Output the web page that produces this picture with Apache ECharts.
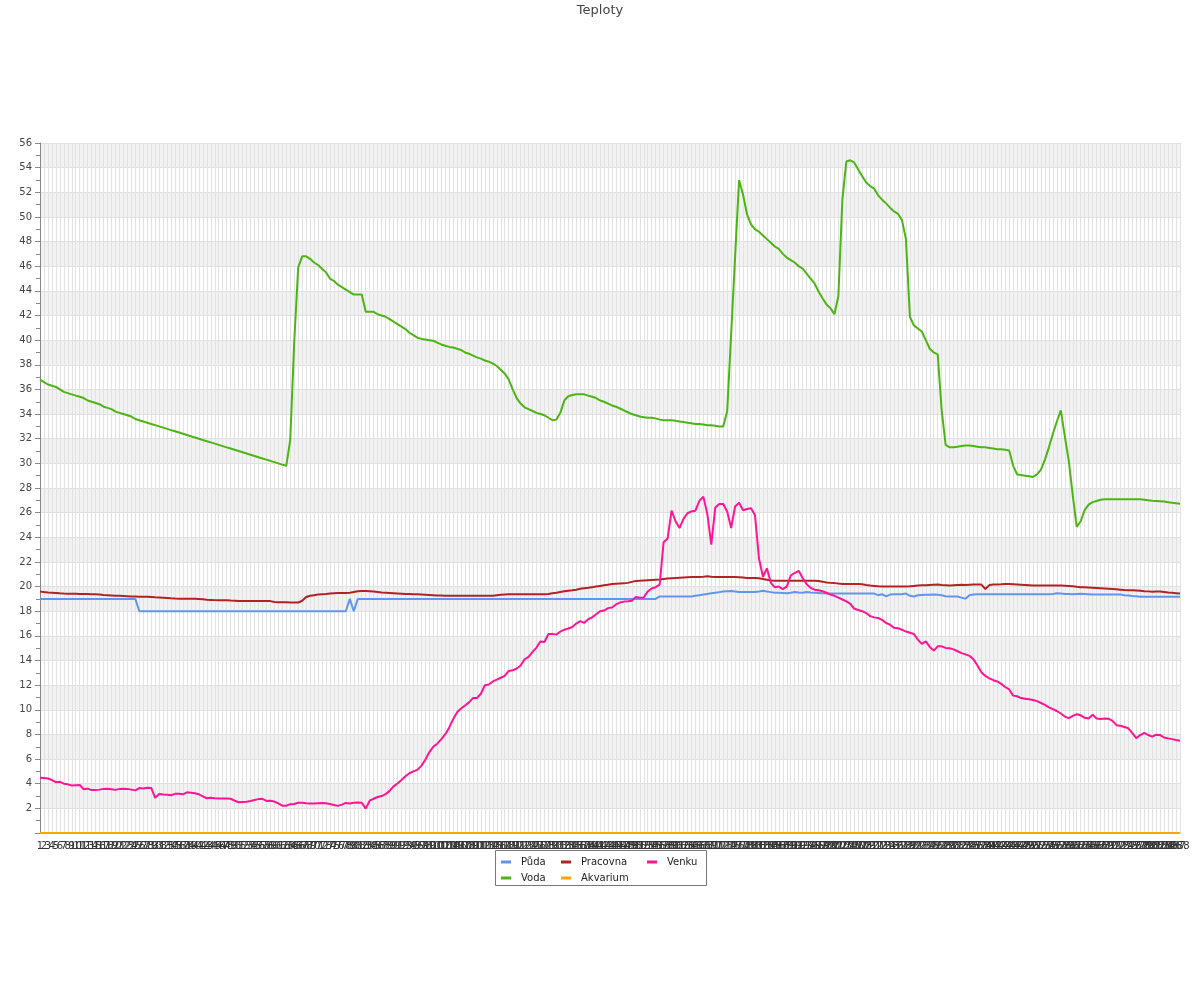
<!DOCTYPE html>
<html>
<head>
<meta charset="utf-8">
<script src="https://cdn.jsdelivr.net/npm/echarts@6/dist/echarts.min.js"></script>
<style>html,body{margin:0;padding:0;background:#fff}#c{width:1200px;height:1000px}</style>
</head>
<body>
<div id="c"></div>
<script>
// category labels 1..288
const categories = Array.from({length: 288}, (_, i) => String(i + 1));

const puda = [
19,19,19,19,19,19,19,19,19,19,
19,19,19,19,19,19,19,19,19,19,
19,19,19,19,19,18,18,18,18,18,
18,18,18,18,18,18,18,18,18,18,
18,18,18,18,18,18,18,18,18,18,
18,18,18,18,18,18,18,18,18,18,
18,18,18,18,18,18,18,18,18,18,
18,18,18,18,18,18,18,18,19,18,
19,19,19,19,19,19,19,19,19,19,
19,19,19,19,19,19,19,19,19,19,
19,19,19,19,19,19,19,19,19,19,
19,19,19,19,19,19,19,19,19,19,
19,19,19,19,19,19,19,19,19,19,
19,19,19,19,19,19,19,19,19,19,
19,19,19,19,19,19,19,19,19,19,
19,19,19,19,19,19,19.2,19.2,19.2,19.2,
19.2,19.2,19.2,19.2,19.2,19.25,19.3,19.35,19.4,19.45,
19.5,19.55,19.6,19.62,19.64,19.6,19.56,19.56,19.56,19.56,
19.56,19.6,19.66,19.6,19.55,19.5,19.5,19.48,19.45,19.5,
19.56,19.52,19.5,19.56,19.52,19.5,19.48,19.45,19.43,19.43,
19.43,19.43,19.43,19.43,19.43,19.43,19.43,19.43,19.43,19.43,
19.43,19.3,19.38,19.2,19.35,19.38,19.38,19.38,19.43,19.25,
19.2,19.3,19.32,19.34,19.34,19.35,19.34,19.3,19.22,19.2,
19.2,19.2,19.1,19.02,19.3,19.35,19.37,19.37,19.37,19.37,
19.37,19.37,19.37,19.37,19.37,19.37,19.37,19.37,19.37,19.37,
19.37,19.37,19.37,19.37,19.37,19.4,19.45,19.43,19.4,19.4,
19.38,19.4,19.42,19.4,19.38,19.35,19.35,19.35,19.35,19.35,
19.35,19.35,19.35,19.3,19.27,19.24,19.22,19.18,19.18,19.18,
19.18,19.18,19.18,19.18,19.18,19.18,19.18,19.18
];

const voda = [
36.8,36.6,36.4,36.3,36.2,36.0,35.8,35.7,35.6,35.5,
35.4,35.3,35.1,35.0,34.9,34.8,34.6,34.5,34.4,34.2,
34.1,34.0,33.9,33.8,33.6,33.5,33.4,33.3,33.2,33.1,
33.0,32.9,32.8,32.7,32.6,32.5,32.4,32.3,32.2,32.1,
32.0,31.9,31.8,31.7,31.6,31.5,31.4,31.3,31.2,31.1,
31.0,30.9,30.8,30.7,30.6,30.5,30.4,30.3,30.2,30.1,
30.0,29.9,29.8,31.9,39.8,45.9,46.8,46.8,46.6,46.3,
46.1,45.8,45.5,45.0,44.8,44.5,44.3,44.1,43.9,43.7,
43.7,43.7,42.3,42.3,42.3,42.1,42.0,41.9,41.7,41.5,
41.3,41.1,40.9,40.6,40.4,40.2,40.1,40.05,40.0,39.95,
39.8,39.65,39.55,39.45,39.4,39.3,39.2,39.0,38.9,38.75,
38.6,38.5,38.35,38.25,38.1,37.9,37.6,37.3,36.8,36.0,
35.3,34.85,34.55,34.4,34.25,34.1,34.0,33.9,33.7,33.5,
33.55,34.1,35.1,35.45,35.55,35.6,35.6,35.6,35.5,35.4,
35.3,35.1,35.0,34.85,34.7,34.6,34.45,34.3,34.15,34.0,
33.9,33.8,33.75,33.7,33.7,33.65,33.55,33.5,33.5,33.5,
33.45,33.4,33.35,33.3,33.25,33.2,33.2,33.15,33.1,33.1,
33.05,33.0,33.0,34.2,40.5,46.8,53.0,51.8,50.2,49.4,
49.0,48.8,48.5,48.2,47.9,47.6,47.4,47.0,46.7,46.5,
46.3,46.0,45.8,45.4,45.0,44.6,43.95,43.4,42.9,42.6,
42.1,43.6,51.4,54.5,54.6,54.4,53.85,53.3,52.8,52.5,
52.3,51.75,51.4,51.1,50.75,50.45,50.25,49.75,48.2,41.9,
41.2,40.95,40.7,40.0,39.3,39.0,38.85,34.3,31.5,31.3,
31.3,31.35,31.4,31.45,31.45,31.4,31.35,31.3,31.3,31.25,
31.2,31.15,31.15,31.1,31.05,29.8,29.1,29.05,29.0,28.95,
28.9,29.1,29.5,30.3,31.3,32.4,33.4,34.3,32.2,30.2,
27.4,24.85,25.3,26.2,26.65,26.85,26.95,27.05,27.08,27.08,
27.08,27.08,27.08,27.08,27.08,27.08,27.08,27.08,27.05,27.0,
26.97,26.95,26.93,26.9,26.85,26.8,26.77,26.73
];

const pracovna = [
19.59,19.55,19.52,19.5,19.48,19.45,19.43,19.42,19.42,19.41,
19.4,19.4,19.39,19.38,19.37,19.35,19.32,19.3,19.28,19.26,
19.25,19.24,19.22,19.2,19.19,19.18,19.18,19.17,19.15,19.13,
19.12,19.1,19.08,19.05,19.03,19.02,19.02,19.02,19.02,19.02,
19.0,18.97,18.94,18.92,18.9,18.88,18.9,18.88,18.86,18.85,
18.83,18.83,18.83,18.83,18.83,18.83,18.83,18.83,18.82,18.75,
18.73,18.72,18.72,18.71,18.7,18.7,18.85,19.15,19.25,19.3,
19.35,19.38,19.4,19.43,19.45,19.47,19.48,19.48,19.5,19.56,
19.62,19.64,19.64,19.63,19.6,19.56,19.52,19.5,19.48,19.46,
19.44,19.42,19.4,19.39,19.38,19.37,19.35,19.33,19.31,19.29,
19.27,19.27,19.26,19.26,19.26,19.26,19.26,19.26,19.26,19.26,
19.26,19.26,19.26,19.26,19.26,19.3,19.33,19.36,19.37,19.37,
19.37,19.37,19.37,19.37,19.37,19.37,19.37,19.37,19.4,19.45,
19.5,19.56,19.62,19.66,19.7,19.75,19.82,19.86,19.9,19.95,
20.0,20.05,20.1,20.15,20.2,20.22,20.24,20.26,20.3,20.38,
20.46,20.48,20.5,20.52,20.54,20.56,20.58,20.62,20.65,20.68,
20.7,20.72,20.74,20.76,20.77,20.78,20.78,20.8,20.83,20.8,
20.78,20.78,20.78,20.78,20.78,20.78,20.76,20.74,20.7,20.7,
20.7,20.68,20.62,20.55,20.5,20.48,20.48,20.48,20.48,20.48,
20.48,20.48,20.48,20.48,20.48,20.48,20.45,20.4,20.33,20.3,
20.28,20.24,20.21,20.21,20.21,20.21,20.21,20.18,20.12,20.08,
20.05,20.02,20.0,20.0,20.0,20.0,20.0,20.0,20.0,20.02,
20.05,20.08,20.1,20.1,20.12,20.14,20.16,20.12,20.1,20.08,
20.1,20.12,20.14,20.12,20.14,20.16,20.16,20.16,19.8,20.12,
20.16,20.17,20.18,20.2,20.2,20.18,20.16,20.14,20.12,20.1,
20.08,20.08,20.08,20.08,20.08,20.08,20.08,20.08,20.07,20.05,
20.02,19.98,19.95,19.94,19.92,19.9,19.88,19.86,19.84,19.82,
19.8,19.78,19.75,19.72,19.7,19.7,19.68,19.66,19.63,19.61,
19.58,19.6,19.6,19.56,19.52,19.49,19.46,19.43
];

const akvarium = [
0,0,0,0,0,0,0,0,0,0,0,0,0,0,0,0,0,0,0,0,0,0,0,0,0,0,0,0,0,0,
0,0,0,0,0,0,0,0,0,0,0,0,0,0,0,0,0,0,0,0,0,0,0,0,0,0,0,0,0,0,
0,0,0,0,0,0,0,0,0,0,0,0,0,0,0,0,0,0,0,0,0,0,0,0,0,0,0,0,0,0,
0,0,0,0,0,0,0,0,0,0,0,0,0,0,0,0,0,0,0,0,0,0,0,0,0,0,0,0,0,0,
0,0,0,0,0,0,0,0,0,0,0,0,0,0,0,0,0,0,0,0,0,0,0,0,0,0,0,0,0,0,
0,0,0,0,0,0,0,0,0,0,0,0,0,0,0,0,0,0,0,0,0,0,0,0,0,0,0,0,0,0,
0,0,0,0,0,0,0,0,0,0,0,0,0,0,0,0,0,0,0,0,0,0,0,0,0,0,0,0,0,0,
0,0,0,0,0,0,0,0,0,0,0,0,0,0,0,0,0,0,0,0,0,0,0,0,0,0,0,0,0,0,
0,0,0,0,0,0,0,0,0,0,0,0,0,0,0,0,0,0,0,0,0,0,0,0,0,0,0,0,0,0,
0,0,0,0,0,0,0,0,0,0,0,0,0,0,0,0,0,0
];

const venku = [
4.49,4.46,4.42,4.3,4.12,4.15,4.0,3.95,3.85,3.88,
3.9,3.55,3.6,3.48,3.48,3.52,3.58,3.6,3.55,3.5,
3.58,3.6,3.58,3.52,3.46,3.65,3.62,3.68,3.66,2.85,
3.17,3.12,3.1,3.06,3.18,3.18,3.14,3.3,3.26,3.22,
3.14,2.98,2.82,2.86,2.82,2.8,2.8,2.8,2.78,2.62,
2.5,2.52,2.54,2.6,2.68,2.75,2.77,2.6,2.62,2.55,
2.4,2.22,2.22,2.33,2.36,2.46,2.46,2.42,2.4,2.4,
2.42,2.44,2.42,2.35,2.28,2.2,2.3,2.44,2.4,2.46,
2.47,2.46,1.98,2.62,2.78,2.92,3.0,3.15,3.42,3.78,
4.02,4.3,4.6,4.85,5.0,5.12,5.45,5.95,6.55,7.0,
7.25,7.6,8.0,8.55,9.23,9.8,10.1,10.35,10.6,10.95,
10.95,11.3,12.0,12.05,12.3,12.45,12.6,12.75,13.15,13.2,
13.35,13.6,14.1,14.3,14.7,15.05,15.55,15.5,16.15,16.15,
16.1,16.35,16.5,16.6,16.72,17.0,17.2,17.05,17.35,17.5,
17.75,18.0,18.05,18.25,18.3,18.55,18.7,18.78,18.8,18.85,
19.15,19.1,19.12,19.6,19.85,19.95,20.15,23.6,23.9,26.16,
25.3,24.75,25.5,25.95,26.1,26.16,26.95,27.3,25.9,23.4,
26.4,26.7,26.7,26.1,24.75,26.5,26.8,26.2,26.3,26.35,
25.8,22.3,20.8,21.48,20.3,19.94,20.0,19.8,20.0,20.9,
21.1,21.28,20.7,20.2,19.9,19.75,19.7,19.62,19.5,19.35,
19.25,19.1,18.95,18.8,18.6,18.2,18.1,18.0,17.85,17.6,
17.5,17.45,17.3,17.05,16.9,16.65,16.62,16.5,16.35,16.25,
16.15,15.7,15.35,15.55,15.1,14.8,15.15,15.15,15.02,15.0,
14.9,14.75,14.6,14.5,14.38,14.1,13.6,13.05,12.75,12.55,
12.4,12.3,12.1,11.85,11.65,11.15,11.1,10.95,10.9,10.85,
10.8,10.7,10.55,10.4,10.2,10.05,9.9,9.7,9.45,9.32,
9.5,9.64,9.55,9.35,9.3,9.6,9.3,9.25,9.3,9.28,
9.1,8.75,8.7,8.6,8.5,8.1,7.7,7.95,8.12,7.95,
7.82,7.98,7.95,7.75,7.68,7.62,7.55,7.49
];

const seriesNames = ['Půda', 'Voda', 'Pracovna', 'Akvarium', 'Venku'];
const seriesData = [puda, voda, pracovna, akvarium, venku];
const seriesColors = ['#6495ED', '#4CB515', '#B22222', '#FFA500', '#FF1493'];

const FONT = 'DejaVu Sans';
const chart = echarts.init(document.getElementById('c'), null, {renderer: 'canvas'});

function legendCol(names, left) {
  return {
    data: names,
    orient: 'vertical',
    left: left,
    top: 854,
    padding: 0,
    itemGap: 0,
    icon: 'rect',
    itemWidth: 10,
    itemHeight: 3,
    textStyle: {fontFamily: FONT, fontSize: 10, color: '#222', lineHeight: 16, padding: [0, 0, 0, 5]},
    selectedMode: false
  };
}

chart.setOption({
  animation: false,
  backgroundColor: '#ffffff',
  color: seriesColors,
  title: {
    text: 'Teploty',
    left: 'center',
    top: 4,
    padding: 0,
    textStyle: {fontFamily: FONT, fontSize: 13, fontWeight: 'normal', color: '#444'}
  },
  legend: [
    legendCol(['Půda', 'Voda'], 501),
    legendCol(['Pracovna', 'Akvarium'], 561),
    legendCol(['Venku'], 647)
  ],
  graphic: [{
    type: 'rect',
    shape: {x: 495.5, y: 850.5, width: 211, height: 35},
    style: {fill: 'none', stroke: '#777', lineWidth: 1},
    silent: true
  }],
  grid: {left: 40, right: 20, top: 143, bottom: 167, containLabel: false},
  xAxis: {
    type: 'category',
    data: categories,
    boundaryGap: false,
    axisLine: {show: true, lineStyle: {color: '#888'}},
    axisTick: {show: false},
    axisLabel: {interval: 0, fontFamily: FONT, fontSize: 10, color: '#333', margin: 8, hideOverlap: false},
    splitLine: {show: true, interval: 0, lineStyle: {color: '#e2e2e2', width: 1}}
  },
  yAxis: {
    type: 'value',
    min: 0,
    max: 56,
    interval: 2,
    axisLine: {show: true, lineStyle: {color: '#888'}},
    axisTick: {show: true, length: 5, lineStyle: {color: '#888'}},
    minorTick: {show: true, splitNumber: 2, length: 4, lineStyle: {color: '#888'}},
    axisLabel: {fontFamily: FONT, fontSize: 10, color: '#444', margin: 8,
      formatter: function (v) { return v === 0 ? '' : String(v); }},
    splitLine: {show: true, lineStyle: {color: '#e0e0e0'}},
    splitArea: {show: true, areaStyle: {color: ['rgba(255,255,255,0)', '#f2f2f2']}}
  },
  series: seriesNames.map(function (n, k) {
    return {
      name: n,
      type: 'line',
      data: seriesData[k],
      symbol: 'none',
      lineStyle: {width: 2, color: seriesColors[k]},
      itemStyle: {color: seriesColors[k]},
      emphasis: {disabled: true}
    };
  })
});
</script>
</body>
</html>
